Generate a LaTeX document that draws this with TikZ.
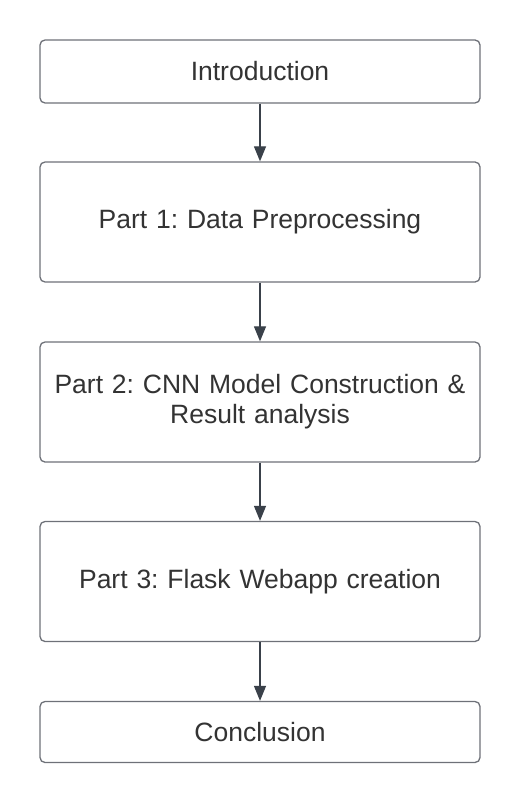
\documentclass[tikz,border=0pt]{standalone}
\usepackage{fontspec}
\setmainfont{Liberation Sans}
\usetikzlibrary{arrows.meta}
\definecolor{boxline}{HTML}{6E7178}
\definecolor{arrowcol}{HTML}{3A414A}
\definecolor{txt}{HTML}{333333}
\begin{document}
\frenchspacing
\begin{tikzpicture}[x=1pt,y=-1pt,
  stage/.style={draw=boxline,line width=1.3pt,rounded corners=5pt,fill=white,
    minimum width=440pt,text width=430pt,align=center,text=txt,
    font=\fontsize{26.5}{30}\selectfont},
  flow/.style={draw=arrowcol,line width=1.2pt,-{Triangle[length=15pt,width=12pt]}}]
\useasboundingbox (0,0) rectangle (520,802);
\node[stage,minimum height=63pt] (intro) at (260,71.5) {Introduction};
\node[stage,minimum height=120pt] (p1) at (260,222) {Part 1: Data Preprocessing};
\node[stage,minimum height=120pt] (p2) at (260,402) {Part 2: CNN Model Construction \&\\Result analysis};
\node[stage,minimum height=120pt] (p3) at (260,581.5) {Part 3: Flask Webapp creation};
\node[stage,minimum height=61pt] (conc) at (260,732) {Conclusion};
\draw[flow] (intro) -- (p1);
\draw[flow] (p1) -- (p2);
\draw[flow] (p2) -- (p3);
\draw[flow] (p3) -- (conc);
\end{tikzpicture}
\end{document}
